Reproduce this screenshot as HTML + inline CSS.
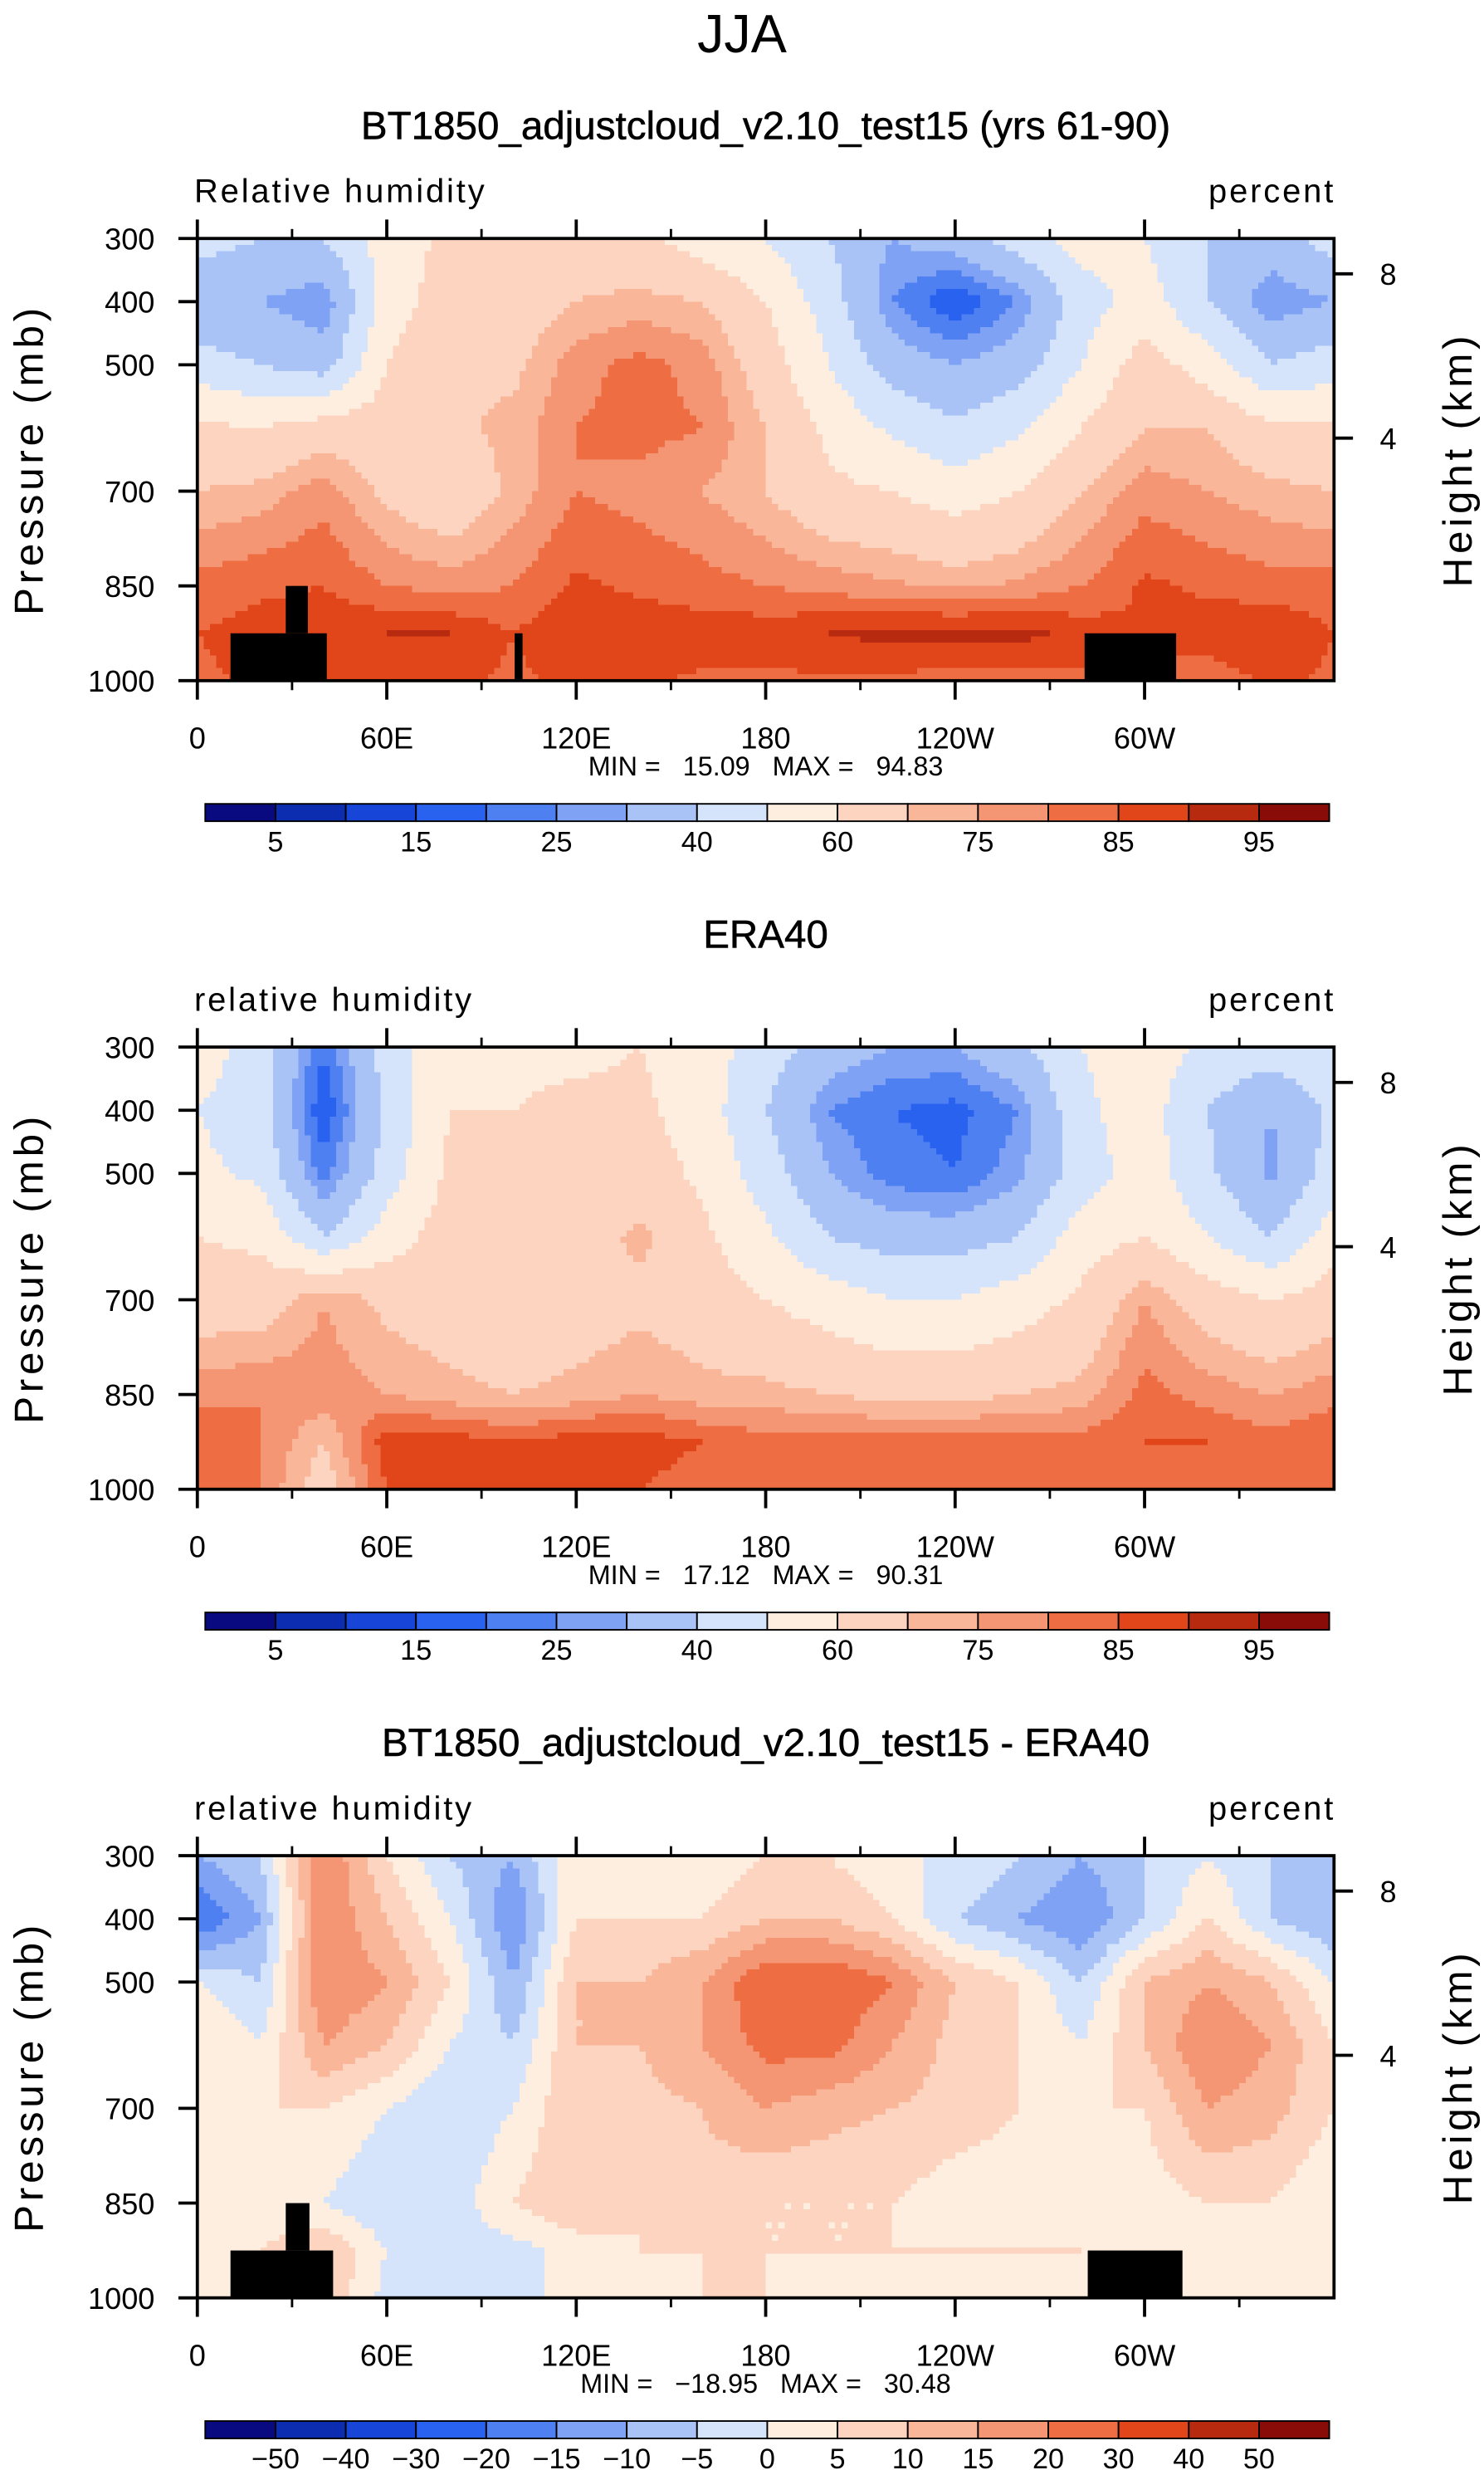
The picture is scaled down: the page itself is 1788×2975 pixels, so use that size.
<!DOCTYPE html>
<html><head><meta charset="utf-8">
<style>
html,body{margin:0;padding:0;background:#fff;}
svg{display:block;font-family:"Liberation Sans",sans-serif;}
.pre{white-space:pre;}
</style></head>
<body>
<svg id="fig" width="1788" height="2975" viewBox="0 0 940 1564" preserveAspectRatio="none" xmlns="http://www.w3.org/2000/svg">
<rect x="0" y="0" width="940" height="1564" fill="#fff"/>
<text x="470" y="33" font-size="34" text-anchor="middle" font-weight="300" fill="#000">JJA</text>
</svg>
<script>
// ---------- data ----------
const lons = [0,20,40,60,80,100,120,140,160,180,200,220,240,260,280,300,320,340,360];
const pressures = [300,400,500,600,700,850,925,1000];
const absLevels = [5,10,15,20,25,30,40,50,60,70,75,80,85,90,95];
const absLabels = ["5","15","25","40","60","75","85","95"];
const diffLevels = [-50,-40,-30,-20,-15,-10,-5,0,5,10,15,20,30,40,50];
const diffLabels = ["-50","-40","-30","-20","-15","-10","-5","0","5","10","15","20","30","40","50"];
const lonTickLabels = ["0","60E","120E","180","120W","60W"];
const lonTickValues = [0,60,120,180,240,300];
const pTicks = [300,400,500,700,850,1000];
const hTicks = [8,4];
const hTickP = [356,616];
const modelRH = [
 [45,40,40,55,62,62,65,62,55,50,40,30,35,45,55,50,40,35,45],
 [30,30,25,55,65,65,70,72,70,60,45,25,15,25,45,55,40,25,30],
 [45,40,35,60,70,68,78,82,78,65,50,35,30,35,50,65,55,40,45],
 [62,60,65,65,68,72,80,82,80,70,58,48,42,48,60,70,70,62,62],
 [70,72,78,68,62,72,80,78,75,70,62,60,55,60,70,78,75,72,70],
 [82,84,85,80,78,80,86,84,82,80,78,76,74,76,80,86,84,82,82],
 [85,87,88,90,90,85,90,88,88,88,90,92,92,92,88,85,88,90,85],
 [84,86,86,86,86,84,86,86,84,84,84,84,82,82,84,84,82,86,84]];
const eraRH = [
 [55,45,20,45,58,58,58,60,55,45,35,30,30,38,50,55,48,45,50],
 [50,45,15,42,60,60,62,62,55,40,25,20,18,25,48,55,40,30,42],
 [52,48,22,45,62,60,62,65,58,45,30,22,20,28,45,55,42,28,45],
 [60,58,40,55,65,62,65,72,62,52,40,35,35,40,55,60,50,40,55],
 [65,65,75,68,65,62,65,68,65,60,55,50,50,55,62,75,65,60,65],
 [78,80,78,75,72,70,72,75,72,72,70,68,68,70,72,82,78,75,78],
 [85,80,70,88,88,85,88,88,85,82,82,82,82,82,82,85,85,82,85],
 [82,80,65,85,85,85,85,85,82,82,82,82,82,82,80,82,80,82,82]];
const diffRH = [
 [-10,-5,20,5,-5,-10,5,0,0,5,5,0,0,-5,-10,-5,0,-5,-10],
 [-20,-10,20,10,0,-15,5,5,5,10,10,5,-5,-10,-15,-5,5,-5,-10],
 [0,-5,20,15,5,-10,10,10,15,25,25,20,10,5,-5,10,15,10,0],
 [5,0,15,10,0,-5,10,10,15,22,22,15,8,5,0,10,20,15,5],
 [5,5,5,0,-5,0,10,8,10,15,12,10,8,5,5,5,15,12,5],
 [0,2,0,-5,-3,5,10,5,8,5,5,5,2,2,5,2,5,5,0],
 [0,5,10,0,-3,-2,2,5,5,5,5,5,5,5,5,2,2,5,0],
 [0,5,10,-2,-3,-2,2,2,5,5,2,2,2,2,2,2,2,2,0]];
const panelMin = ["15.09","17.12","-18.95"];
const panelMax = ["94.83","90.31","30.48"];
const colors = ["#0a0a80","#0c2db0","#1745d8","#2a62f0","#4f80f2","#7fa2f4","#a9c3f7","#d5e4fb",
 "#fdeee0","#fcd4bf","#f9b699","#f49574","#ee6d42","#e1461a","#b82a10","#8a0c08"];

// ---------- helpers ----------
const NS="http://www.w3.org/2000/svg";
const svg=document.getElementById('fig');
function mk(tag,attrs,parent){const e=document.createElementNS(NS,tag);for(const k in attrs)e.setAttribute(k,attrs[k]);(parent||svg).appendChild(e);return e;}
const X0=125,X1=845;
function xs(lon){return X0+(lon/360)*(X1-X0);}
function ys(p,top){return top+(p-300)/700*280;}
function colorIdx(v,levels){let i=0;while(i<levels.length&&v>=levels[i])i++;return i;}
function sample(grid,lon,p){
  let j=Math.min(Math.floor(lon/20),17);let tx=(lon-lons[j])/20;
  let i=0;while(i<pressures.length-2&&p>pressures[i+1])i++;
  let ty=(p-pressures[i])/(pressures[i+1]-pressures[i]);
  const a=grid[i][j],b=grid[i][j+1],c=grid[i+1][j],d=grid[i+1][j+1];
  return a*(1-tx)*(1-ty)+b*tx*(1-ty)+c*(1-tx)*ty+d*tx*ty;
}

function panel(k,top,titleText,leftLabel,grid,levels,labels,land){
  const g=mk('g',{});
  
  
  const t=mk('text',{x:485,y:top-63,'font-size':25,'text-anchor':'middle','stroke':'#000','stroke-width':0.3},g);t.textContent=titleText;
  
  
  const ll=mk('text',{x:123,y:top-23,'font-size':21,'letter-spacing':1.5},g);ll.textContent=leftLabel;
  
  
  const rl=mk('text',{x:846,y:top-23,'font-size':21,'text-anchor':'end','letter-spacing':1.5},g);rl.textContent="percent";
  
  
  const fg=mk('g',{'shape-rendering':'crispEdges'},g);
  
  
  const dl=2,dp=10;
  for(let p=300;p<1000;p+=dp){
    let start=0,cur=null;
    for(let lon=0;lon<=360;lon+=dl){
      let ci=lon<360?colorIdx(sample(grid,lon+dl/2,p+dp/2),levels):-1;
      if(ci!==cur){
        if(cur!==null){const r=mk('rect',{x:xs(start),y:ys(p,top),width:xs(lon)-xs(start)+0.3,height:ys(p+dp,top)-ys(p,top)+0.3,fill:colors[cur]},fg);
          
          }
        cur=ci;start=lon;
      }
    }
  }
  land.forEach(b=>{const r=mk('rect',{x:b[0],y:top+b[1],width:b[2],height:b[3],fill:'#000'},g);
    
    });
  const fr=mk('rect',{x:X0,y:top,width:X1-X0,height:280,fill:'none',stroke:'#000','stroke-width':2},g);
  
  
  lonTickValues.forEach((lv,i)=>{
    const x=xs(lv);
    mk('line',{x1:x,y1:top+280,x2:x,y2:top+292,stroke:'#000','stroke-width':2},g);
    mk('line',{x1:x,y1:top,x2:x,y2:top-12,stroke:'#000','stroke-width':2},g);
    const tl=mk('text',{x:x,y:top+323,'font-size':19,'text-anchor':'middle'},g);tl.textContent=lonTickLabels[i];
    
    
  });
  [30,90,150,210,270,330].forEach(lv=>{const x=xs(lv);
    mk('line',{x1:x,y1:top+280,x2:x,y2:top+286,stroke:'#000','stroke-width':1.5},g);
    mk('line',{x1:x,y1:top,x2:x,y2:top-6,stroke:'#000','stroke-width':1.5},g);});
  pTicks.forEach(p=>{const y=ys(p,top);
    mk('line',{x1:X0,y1:y,x2:X0-12,y2:y,stroke:'#000','stroke-width':2},g);
    const tl=mk('text',{x:98,y:y+7,'font-size':19,'text-anchor':'end'},g);tl.textContent=String(p);
    
    });
  hTicks.forEach((h,i)=>{const y=ys(hTickP[i],top);
    mk('line',{x1:X1,y1:y,x2:X1+12,y2:y,stroke:'#000','stroke-width':2},g);
    const tl=mk('text',{x:874,y:y+7,'font-size':19},g);tl.textContent=String(h);
    
    });
  const ya=mk('text',{x:0,y:0,'font-size':26,'text-anchor':'middle','letter-spacing':2.5,transform:`translate(27,${top+140}) rotate(-90)`},g);ya.textContent="Pressure (mb)";
  
  
  const ha=mk('text',{x:0,y:0,'font-size':26,'text-anchor':'middle','letter-spacing':2.5,transform:`translate(932,${top+140}) rotate(-90)`},g);ha.textContent="Height (km)";
  
  
  const mm=mk('text',{x:485,y:top+340,'font-size':17,'text-anchor':'middle','class':'pre'},g);
  mm.textContent=`MIN =   ${panelMin[k].replace('-','\u2212')}   MAX =   ${panelMax[k]}`;
  
  
  const cb=mk('g',{},g);
  
  
  const cy=top+358,cx0=130,cw=712/16;
  colors.forEach((c,i)=>{const r=mk('rect',{x:cx0+i*cw,y:cy,width:cw,height:11,fill:c,stroke:'#000','stroke-width':1},cb);
    
    });
  if(labels.length===8){
    labels.forEach((s,i)=>{const tl=mk('text',{x:cx0+(1+2*i)*cw,y:cy+30,'font-size':18,'text-anchor':'middle'},cb);tl.textContent=s;
      
      });
  } else {
    labels.forEach((s,i)=>{const tl=mk('text',{x:cx0+(1+i)*cw,y:cy+30,'font-size':18,'text-anchor':'middle'},cb);tl.textContent=s.replace('-','\u2212');
      
      });
  }
}
panel(0,151,"BT1850_adjustcloud_v2.10_test15 (yrs 61-90)","Relative humidity",modelRH,absLevels,absLabels,
  [[146,250,61,30],[181,220,14,30],[326,250,5,30],[687,250,58,30]]);
panel(1,663,"ERA40","relative humidity",eraRH,absLevels,absLabels,[]);
panel(2,1175,"BT1850_adjustcloud_v2.10_test15 - ERA40","relative humidity",diffRH,diffLevels,diffLabels,
  [[146,250,65,30],[181,220,15,30],[689,250,60,30]]);
</script>
</body></html>
